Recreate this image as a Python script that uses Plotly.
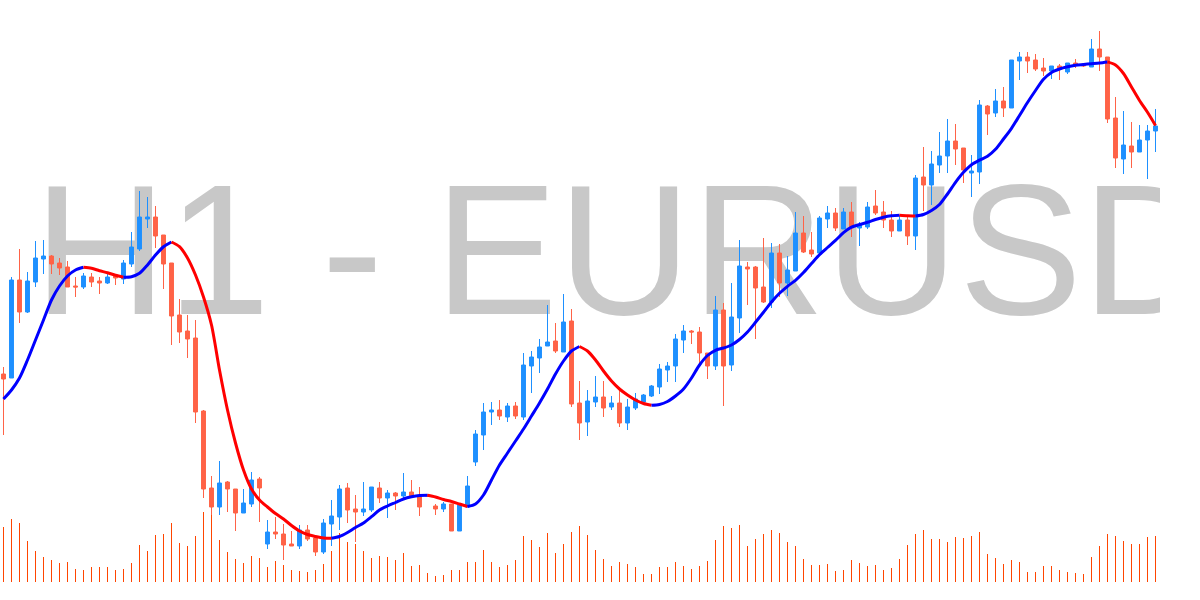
import plotly.graph_objects as go

# ---- data (EURUSD H1 candles) ----
open_ = [1.1626, 1.1622, 1.1720, 1.1688, 1.1718, 1.1741, 1.1744, 1.1737, 1.1733, 1.1714,
         1.1713, 1.1723, 1.1719, 1.1717, 1.1724, 1.1721, 1.1736, 1.1751, 1.1781, 1.1783,
         1.1765, 1.1737, 1.1685, 1.1669, 1.1662, 1.1589, 1.1512, 1.1493, 1.1518, 1.1511,
         1.1487, 1.1496, 1.1521, 1.1456, 1.1468, 1.1466, 1.1456, 1.1454, 1.1470, 1.1462,
         1.1448, 1.1476, 1.1483, 1.1512, 1.1491, 1.1488, 1.1490, 1.1512, 1.1502, 1.1507,
         1.1504, 1.1508, 1.1504, 1.1505, 1.1494, 1.1491, 1.1496, 1.1469, 1.1493, 1.1538,
         1.1565, 1.1588, 1.1590, 1.1583, 1.1594, 1.1583, 1.1634, 1.1642, 1.1654, 1.1659,
         1.1648, 1.1679, 1.1597, 1.1578, 1.1598, 1.1603, 1.1593, 1.1597, 1.1577, 1.1592,
         1.1598, 1.1604, 1.1613, 1.1630, 1.1634, 1.1660, 1.1669, 1.1668, 1.1647, 1.1634,
         1.1690, 1.1635, 1.1682, 1.1733, 1.1733, 1.1713, 1.1698, 1.1747, 1.1717, 1.1729,
         1.1767, 1.1750, 1.1747, 1.1781, 1.1787, 1.1771, 1.1788, 1.1772, 1.1773, 1.1794,
         1.1788, 1.1780, 1.1769, 1.1780, 1.1764, 1.1823, 1.1815, 1.1835, 1.1844, 1.1859,
         1.1852, 1.1827, 1.1828, 1.1894, 1.1887, 1.1899, 1.1892, 1.1939, 1.1943, 1.1940,
         1.1932, 1.1929, 1.1934, 1.1928, 1.1937, 1.1936, 1.1933, 1.1951, 1.1943, 1.1882,
         1.1841, 1.1854, 1.1848, 1.1860, 1.1869]

high = [1.1633, 1.1723, 1.1751, 1.1728, 1.1759, 1.1760, 1.1745, 1.1742, 1.1739, 1.1723,
        1.1727, 1.1727, 1.1723, 1.1726, 1.1726, 1.1740, 1.1768, 1.1809, 1.1803, 1.1794,
        1.1765, 1.1737, 1.1701, 1.1685, 1.1680, 1.1590, 1.1524, 1.1539, 1.1519, 1.1511,
        1.1511, 1.1528, 1.1523, 1.1480, 1.1483, 1.1476, 1.1469, 1.1475, 1.1475, 1.1465,
        1.1481, 1.1500, 1.1515, 1.1517, 1.1505, 1.1518, 1.1513, 1.1518, 1.1510, 1.1508,
        1.1527, 1.1520, 1.1513, 1.1506, 1.1496, 1.1498, 1.1496, 1.1495, 1.1524, 1.1570,
        1.1597, 1.1598, 1.1600, 1.1597, 1.1598, 1.1647, 1.1649, 1.1661, 1.1695, 1.1677,
        1.1706, 1.1691, 1.1619, 1.1610, 1.1624, 1.1619, 1.1604, 1.1613, 1.1601, 1.1607,
        1.1606, 1.1615, 1.1636, 1.1638, 1.1666, 1.1675, 1.1670, 1.1673, 1.1647, 1.1704,
        1.1697, 1.1717, 1.1760, 1.1738, 1.1734, 1.1762, 1.1757, 1.1756, 1.1744, 1.1788,
        1.1784, 1.1768, 1.1784, 1.1794, 1.1792, 1.1792, 1.1798, 1.1778, 1.1798, 1.1810,
        1.1799, 1.1789, 1.1785, 1.1785, 1.1825, 1.1853, 1.1849, 1.1868, 1.1881, 1.1876,
        1.1852, 1.1845, 1.1900, 1.1895, 1.1911, 1.1913, 1.1940, 1.1948, 1.1948, 1.1946,
        1.1942, 1.1934, 1.1936, 1.1937, 1.1941, 1.1936, 1.1961, 1.1969, 1.1943, 1.1903,
        1.1889, 1.1878, 1.1875, 1.1875, 1.1891]

low = [1.1565, 1.1622, 1.1677, 1.1687, 1.1713, 1.1726, 1.1726, 1.1725, 1.1713, 1.1703,
       1.1711, 1.1713, 1.1706, 1.1716, 1.1715, 1.1716, 1.1733, 1.1749, 1.1772, 1.1752,
       1.1711, 1.1655, 1.1657, 1.1642, 1.1577, 1.1502, 1.1485, 1.1485, 1.1488, 1.1469,
       1.1487, 1.1493, 1.1478, 1.1451, 1.1461, 1.1440, 1.1454, 1.1451, 1.1459, 1.1444,
       1.1446, 1.1454, 1.1470, 1.1477, 1.1458, 1.1484, 1.1488, 1.1497, 1.1482, 1.1490,
       1.1502, 1.1504, 1.1484, 1.1503, 1.1485, 1.1488, 1.1469, 1.1469, 1.1493, 1.1534,
       1.1550, 1.1575, 1.1580, 1.1578, 1.1581, 1.1580, 1.1607, 1.1627, 1.1654, 1.1647,
       1.1648, 1.1593, 1.1560, 1.1564, 1.1593, 1.1583, 1.1590, 1.1573, 1.1570, 1.1590,
       1.1596, 1.1603, 1.1606, 1.1618, 1.1618, 1.1647, 1.1656, 1.1636, 1.1621, 1.1630,
       1.1594, 1.1629, 1.1667, 1.1695, 1.1661, 1.1697, 1.1692, 1.1703, 1.1704, 1.1729,
       1.1747, 1.1743, 1.1747, 1.1772, 1.1769, 1.1771, 1.1763, 1.1754, 1.1771, 1.1785,
       1.1772, 1.1763, 1.1769, 1.1755, 1.1750, 1.1789, 1.1795, 1.1827, 1.1827, 1.1835,
       1.1817, 1.1803, 1.1816, 1.1865, 1.1883, 1.1883, 1.1892, 1.1920, 1.1927, 1.1929,
       1.1924, 1.1921, 1.1920, 1.1926, 1.1932, 1.1933, 1.1933, 1.1929, 1.1877, 1.1832,
       1.1826, 1.1832, 1.1848, 1.1821, 1.1848]

close = [1.1621, 1.1720, 1.1688, 1.1719, 1.1742, 1.1744, 1.1736, 1.1732, 1.1713, 1.1713,
         1.1724, 1.1718, 1.1717, 1.1723, 1.1722, 1.1737, 1.1753, 1.1783, 1.1783, 1.1764,
         1.1736, 1.1684, 1.1668, 1.1661, 1.1588, 1.1511, 1.1493, 1.1517, 1.1511, 1.1487,
         1.1497, 1.1520, 1.1512, 1.1468, 1.1466, 1.1455, 1.1454, 1.1470, 1.1461, 1.1448,
         1.1477, 1.1484, 1.1511, 1.1490, 1.1488, 1.1491, 1.1513, 1.1502, 1.1507, 1.1504,
         1.1508, 1.1504, 1.1493, 1.1504, 1.1491, 1.1496, 1.1469, 1.1495, 1.1514, 1.1566,
         1.1588, 1.1590, 1.1584, 1.1594, 1.1584, 1.1635, 1.1643, 1.1653, 1.1658, 1.1649,
         1.1678, 1.1596, 1.1577, 1.1599, 1.1603, 1.1592, 1.1597, 1.1577, 1.1593, 1.1601,
         1.1605, 1.1614, 1.1631, 1.1634, 1.1661, 1.1669, 1.1668, 1.1647, 1.1634, 1.1690,
         1.1634, 1.1683, 1.1734, 1.1731, 1.1712, 1.1698, 1.1747, 1.1717, 1.1730, 1.1767,
         1.1748, 1.1746, 1.1782, 1.1787, 1.1772, 1.1788, 1.1772, 1.1775, 1.1793, 1.1787,
         1.1780, 1.1769, 1.1780, 1.1764, 1.1822, 1.1815, 1.1836, 1.1844, 1.1859, 1.1851,
         1.1830, 1.1829, 1.1895, 1.1886, 1.1899, 1.1892, 1.1940, 1.1943, 1.1939, 1.1931,
         1.1929, 1.1934, 1.1932, 1.1937, 1.1935, 1.1934, 1.1951, 1.1943, 1.1881, 1.1842,
         1.1855, 1.1848, 1.1860, 1.1869, 1.1874]

# smoothed moving average (blue while rising, red while falling)
ma = [1.1601, 1.1610, 1.1622, 1.1640, 1.1660, 1.1680, 1.1700, 1.1714, 1.1724, 1.1730,
      1.17327, 1.17317, 1.17293, 1.17273, 1.17247, 1.17227, 1.17233, 1.17267, 1.1735, 1.1745,
      1.17533, 1.1758, 1.17533, 1.1742, 1.1725, 1.1703, 1.1675, 1.1630, 1.1590, 1.1557,
      1.1530, 1.1511, 1.1500, 1.1493, 1.14865, 1.1481, 1.14745, 1.1469, 1.14655, 1.14635,
      1.1462, 1.14617, 1.14635, 1.14675, 1.14725, 1.1477, 1.14833, 1.1490, 1.1494, 1.14975,
      1.1501, 1.15032, 1.15045, 1.15047, 1.1503, 1.15005, 1.14985, 1.1496, 1.14935, 1.1496,
      1.1505, 1.1520, 1.1535, 1.1547, 1.1559, 1.1571, 1.1584, 1.1597, 1.1611, 1.1626,
      1.1639, 1.1649, 1.16535, 1.1649, 1.1640, 1.1629, 1.1619, 1.1611, 1.1605, 1.1600,
      1.15965, 1.15947, 1.15955, 1.15985, 1.1604, 1.1611, 1.1622, 1.1635, 1.16445, 1.16497,
      1.1652, 1.1655, 1.16605, 1.1668, 1.16777, 1.16877, 1.1698, 1.17067, 1.17137, 1.17197,
      1.17275, 1.17365, 1.17453, 1.17525, 1.17596, 1.17673, 1.17728, 1.17755, 1.17777, 1.17805,
      1.17828, 1.17842, 1.17847, 1.17842, 1.1784, 1.17855, 1.17895, 1.17955, 1.1806, 1.18177,
      1.18277, 1.18353, 1.18398, 1.18437, 1.18507, 1.1861, 1.18717, 1.18845, 1.18975, 1.19095,
      1.19207, 1.19276, 1.1931, 1.19332, 1.19347, 1.19355, 1.19363, 1.19371, 1.19381, 1.1935,
      1.19265, 1.1913, 1.18995, 1.18877, 1.18745]

volume = [5500, 6300, 5900, 4100, 3100, 2500, 2200, 1900, 2000, 1300,
          1200, 1500, 1500, 1500, 1200, 1300, 1900, 3700, 3100, 4700,
          4800, 5900, 3900, 3600, 4600, 7000, 7700, 4200, 3000, 2300,
          1900, 2600, 2400, 1500, 2100, 1700, 1200, 1100, 1000, 1200,
          1800, 3100, 4900, 4000, 3800, 3100, 2400, 2600, 2500, 2200,
          2900, 1600, 1700, 900, 600, 700, 1200, 1200, 2000, 2000,
          3200, 2000, 1500, 1700, 2200, 4600, 4200, 3500, 4900, 2900,
          3800, 5000, 5600, 4700, 3200, 2300, 1600, 2000, 1800, 1500,
          800, 800, 1500, 1500, 2000, 1600, 1300, 1600, 2100, 4200,
          5600, 5400, 5700, 3600, 4300, 4800, 5200, 4900, 4000, 3600,
          2300, 1700, 1700, 1800, 1100, 1200, 2200, 1900, 1600, 1700,
          1200, 1400, 2300, 3700, 4800, 5200, 4300, 4300, 4000, 4500,
          4400, 4600, 5000, 2800, 2400, 1800, 2200, 2000, 1000, 1000,
          1600, 1600, 1200, 1000, 900, 800, 2500, 3600, 4800, 4600,
          4100, 3800, 3800, 4500, 4600]

watermark = "H1 - EURUSD"

# ---- styling ----
UP_COLOR = "#1e90ff"
DOWN_COLOR = "#ff6347"
VOL_COLOR = "#ff4500"
MA_UP = "#0000ff"
MA_DOWN = "#ff0000"

n = len(open_)
x = list(range(n))

fig = go.Figure()

# watermark (base axis, drawn beneath everything)
fig.add_trace(go.Scatter(
    x=[(n - 1) / 2 + 5.64], y=[268.0], mode="text", text=[watermark],
    textposition="middle center",
    textfont=dict(family="Liberation Sans, Arial, sans-serif", size=185, color="#c8c8c8"),
    cliponaxis=True, hoverinfo="skip", showlegend=False, yaxis="y"))

# volume
fig.add_trace(go.Bar(
    x=x, y=volume, width=0.125,
    marker=dict(color=VOL_COLOR, line=dict(width=0)),
    hoverinfo="skip", showlegend=False, yaxis="y2"))

# candles
fig.add_trace(go.Candlestick(
    x=x, open=open_, high=high, low=low, close=close,
    increasing=dict(line=dict(color=UP_COLOR, width=1), fillcolor=UP_COLOR),
    decreasing=dict(line=dict(color=DOWN_COLOR, width=1), fillcolor=DOWN_COLOR),
    whiskerwidth=0, showlegend=False, yaxis="y3"))

# moving average, split into rising / falling runs
runs = []
start = 0
cur = ma[1] >= ma[0]
for k in range(1, n):
    up = ma[k] >= ma[k - 1]
    if up != cur:
        runs.append((start, k - 1, cur))
        start = k - 1
        cur = up
runs.append((start, n - 1, cur))
for s, e, up in runs:
    fig.add_trace(go.Scatter(
        x=x[s:e + 1], y=ma[s:e + 1], mode="lines",
        line=dict(color=MA_UP if up else MA_DOWN, width=3, shape="spline", smoothing=0.8),
        hoverinfo="skip", showlegend=False, yaxis="y3"))

fig.update_layout(
    width=1200, height=600,
    margin=dict(l=0, r=40, t=0, b=0),
    paper_bgcolor="white", plot_bgcolor="white",
    showlegend=False,
    xaxis=dict(range=[-0.4375, n - 0.4375], visible=False,
               rangeslider=dict(visible=False), fixedrange=True),
    yaxis=dict(range=[600, 0], visible=False, fixedrange=True),
    yaxis2=dict(range=[-1800, 58200], overlaying="y", visible=False, fixedrange=True),
    yaxis3=dict(range=[1.14, 1.20], overlaying="y", visible=False, fixedrange=True),
)

fig.write_html("out.html", config={"displayModeBar": False},
               post_script="document.body.style.margin='0';document.body.style.overflow='hidden';")
